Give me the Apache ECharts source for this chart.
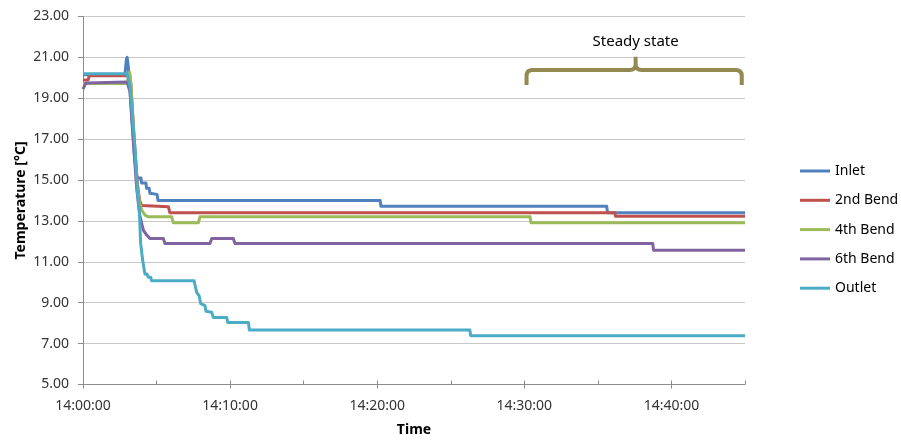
<!DOCTYPE html>
<html>
<head>
<meta charset="utf-8">
<title>Temperature vs time</title>
<script src="https://cdn.jsdelivr.net/npm/echarts@6/dist/echarts.min.js"></script>
<style>
  html, body { margin: 0; padding: 0; background: #fff; }
  #chart { width: 901px; height: 443px; }
</style>
</head>
<body>
<div id="chart"></div>
<script>
// x = minutes after 14:00:00, y = temperature in °C
const inlet = [
  [0, 20.15], [2.85, 20.15], [2.95, 20.9], [3.0, 21.0], [3.07, 20.6], [3.15, 19.9],
  [3.3, 18.2], [3.5, 16.2], [3.67, 15.1], [3.94, 15.1], [3.98, 14.85], [4.28, 14.85],
  [4.32, 14.6], [4.5, 14.6], [4.55, 14.35], [5.03, 14.3], [5.1, 14.0], [20.2, 14.0],
  [20.25, 13.72], [35.6, 13.72], [35.65, 13.4], [45, 13.4]
];
const bend2 = [
  [0, 19.9], [0.35, 19.9], [0.42, 20.1], [3.05, 20.1], [3.15, 20.25], [3.25, 19.7],
  [3.5, 16.8], [3.7, 14.8], [3.85, 14.0], [3.99, 13.75], [5.8, 13.7], [5.91, 13.4],
  [36.15, 13.4], [36.2, 13.23], [45, 13.23]
];
const bend4 = [
  [0, 19.72], [3.0, 19.72], [3.1, 20.1], [3.17, 20.28], [3.25, 19.8], [3.45, 17.2],
  [3.65, 14.8], [3.85, 13.9], [3.99, 13.53], [4.21, 13.29], [4.44, 13.2], [6.03, 13.2],
  [6.14, 12.91], [7.84, 12.91], [7.95, 13.2], [30.39, 13.2], [30.45, 12.91], [45, 12.91]
];
const bend6 = [
  [0, 19.45], [0.2, 19.75], [0.3, 19.8], [3.0, 19.8], [3.1, 19.85], [3.2, 19.3],
  [3.45, 16.6], [3.65, 14.6], [3.85, 13.3], [3.99, 12.88], [4.1, 12.55], [4.33, 12.31],
  [4.55, 12.14], [5.46, 12.14], [5.57, 11.9], [8.63, 11.9], [8.75, 12.14], [10.22, 12.14],
  [10.33, 11.9], [38.73, 11.9], [38.78, 11.57], [45, 11.57]
];
const outlet = [
  [0, 20.2], [3.0, 20.2], [3.2, 19.55], [3.54, 16.5], [3.69, 14.5], [3.83, 13.5],
  [3.92, 11.9], [4.06, 11.05], [4.21, 10.4], [4.35, 10.4], [4.44, 10.25], [4.6, 10.25],
  [4.67, 10.07], [7.55, 10.07], [7.73, 9.5], [7.89, 9.35], [8.0, 8.95], [8.29, 8.86],
  [8.36, 8.58], [8.75, 8.53], [8.86, 8.28], [9.77, 8.28], [9.84, 8.03], [11.24, 8.03],
  [11.31, 7.66], [26.3, 7.66], [26.35, 7.39], [45, 7.39]
];

const seriesNames = ['Inlet', '2nd Bend', '4th Bend', '6th Bend', 'Outlet'];
const seriesData = [inlet, bend2, bend4, bend6, outlet];
const seriesColors = ['#4F81BD', '#C0504D', '#9BBB59', '#8064A2', '#4BACC6'];

const xLabelMinutes = [0, 10, 20, 30, 40];
const yTicks = [5, 7, 9, 11, 13, 15, 17, 19, 21, 23];

// steady-state window: [start min, end min, bar level, foot level, tip level]
const steadyState = [30.15, 44.78, 20.38, 19.65, 21.03];
const steadyLabel = 'Steady state';

const FONT = 'Noto Sans';
const chart = echarts.init(document.getElementById('chart'), null, { renderer: 'canvas' });

function timeLabel(m) {
  const mm = String(Math.round(m)).padStart(2, '0');
  return '14:' + mm + ':00';
}

const lineSeries = seriesNames.map((name, i) => ({
  name: name,
  type: 'line',
  data: seriesData[i],
  showSymbol: false,
  symbol: 'none',
  color: seriesColors[i],
  lineStyle: { width: 3, color: seriesColors[i], join: 'round' },
  xAxisIndex: 0,
  yAxisIndex: 0
}));

const braceSeries = {
  type: 'custom',
  silent: true,
  clip: false,
  xAxisIndex: 0,
  yAxisIndex: 0,
  encode: { x: [0, 1], y: [2, 3, 4] },
  data: [steadyState],
  renderItem: function (params, api) {
    const pl = api.coord([api.value(0), api.value(2)]);
    const pr = api.coord([api.value(1), api.value(2)]);
    const foot = api.coord([api.value(0), api.value(3)])[1];
    const tip = api.coord([(api.value(0) + api.value(1)) / 2 + 0.1, api.value(4)]);
    const xl = pl[0], xr = pr[0], yt = pl[1], xm = tip[0], yTip = tip[1];
    const r = 6;
    const d = [
      'M', xl, foot, 'L', xl, yt + r, 'Q', xl, yt, xl + r, yt,
      'L', xm - r, yt, 'Q', xm, yt, xm, yt - r, 'L', xm, yTip,
      'M', xm, yt - r, 'Q', xm, yt, xm + r, yt,
      'L', xr - r, yt, 'Q', xr, yt, xr, yt + r, 'L', xr, foot
    ].join(' ');
    return {
      type: 'group',
      children: [
        {
          type: 'path',
          shape: { pathData: d },
          style: { fill: null, stroke: '#938953', lineWidth: 4, lineJoin: 'round' }
        },
        {
          type: 'text',
          x: xm,
          y: yTip - 15,
          style: {
            text: steadyLabel,
            fill: '#000',
            font: '15px "' + FONT + '"',
            align: 'center',
            verticalAlign: 'middle'
          }
        }
      ]
    };
  }
};

const option = {
  animation: false,
  backgroundColor: '#ffffff',
  textStyle: { fontFamily: FONT },
  grid: { left: 83, right: 156, top: 16.5, bottom: 58.5, containLabel: false, outerBoundsMode: 'none' },
  legend: {
    orient: 'vertical',
    left: 795,
    top: 157,
    icon: 'rect',
    itemWidth: 30,
    itemHeight: 3,
    itemGap: 11.3,
    data: seriesNames,
    textStyle: { fontFamily: FONT, fontSize: 14, lineHeight: 18, color: '#000' }
  },
  xAxis: [
    {
      type: 'value',
      min: 0,
      max: 45,
      interval: 5,
      name: 'Time',
      nameLocation: 'middle',
      nameGap: 39,
      nameTextStyle: { fontFamily: FONT, fontSize: 14, fontWeight: 'bold', color: '#000', verticalAlign: 'top' },
      axisLine: { show: true, lineStyle: { color: '#8C8C8C', width: 1 } },
      axisTick: { show: true, inside: true, length: 4, lineStyle: { color: '#8C8C8C' } },
      axisLabel: {
        customValues: xLabelMinutes,
        formatter: timeLabel,
        margin: 15,
        fontFamily: FONT,
        fontSize: 14,
        color: '#333'
      },
      splitLine: { show: false }
    },
    {
      type: 'value',
      min: 0,
      max: 45,
      position: 'bottom',
      axisLine: { show: false },
      axisTick: { show: true, inside: false, length: 4, customValues: xLabelMinutes, lineStyle: { color: '#8C8C8C' } },
      axisLabel: { show: false },
      splitLine: { show: false }
    }
  ],
  yAxis: {
    type: 'value',
    min: 5,
    max: 23,
    interval: 2,
    name: 'Temperature [°C]',
    nameLocation: 'middle',
    nameRotate: 90,
    nameGap: 55,
    nameMoveOverlap: false,
    nameTextStyle: { fontFamily: FONT, fontSize: 14, fontWeight: 'bold', color: '#000' },
    axisLine: { show: true, lineStyle: { color: '#8C8C8C', width: 1 } },
    axisTick: { show: true, inside: false, length: 5, lineStyle: { color: '#8C8C8C' } },
    axisLabel: {
      customValues: yTicks,
      formatter: v => v.toFixed(2),
      margin: 14,
      fontFamily: FONT,
      fontSize: 14,
      color: '#333'
    },
    splitLine: { show: true, lineStyle: { color: '#C8C8C8', width: 1 } }
  },
  series: lineSeries.concat([braceSeries])
};

chart.setOption(option);
</script>
</body>
</html>
